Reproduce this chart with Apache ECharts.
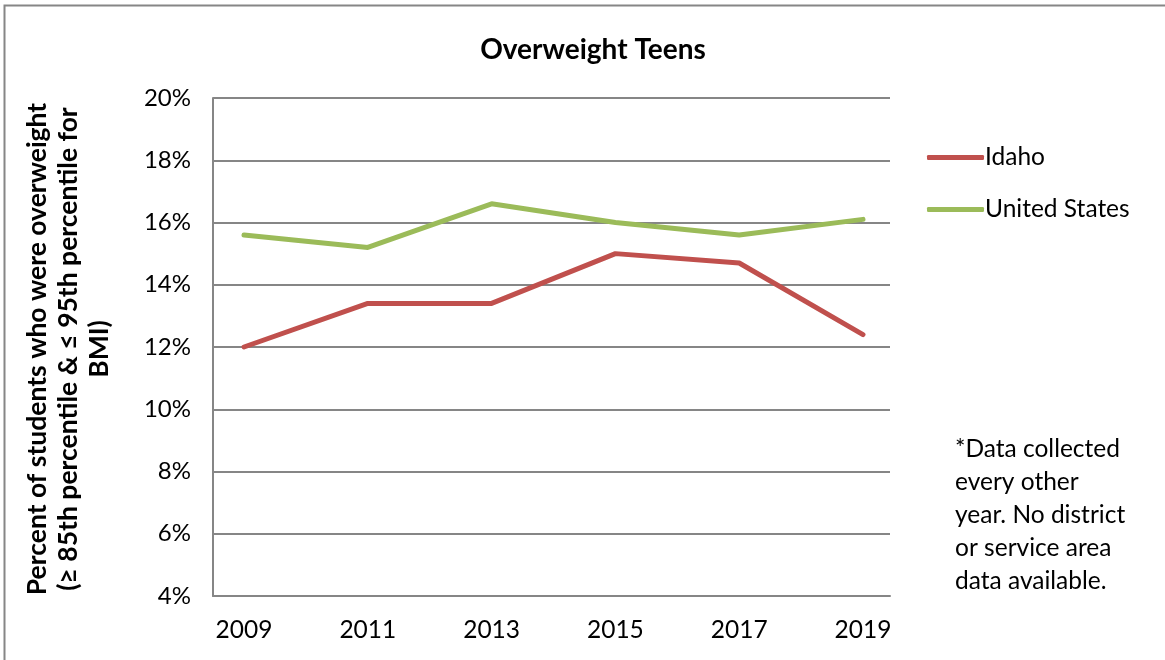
<!DOCTYPE html>
<html>
<head>
<meta charset="utf-8">
<title>Overweight Teens</title>
<script src="https://cdn.jsdelivr.net/npm/echarts@6/dist/echarts.min.js"></script>
<style>
  html, body { margin: 0; padding: 0; background: #fff; }
  #main { width: 1165px; height: 660px; }
</style>
</head>
<body>
<div id="main"></div>
<script>
var years = ['2009', '2011', '2013', '2015', '2017', '2019'];
var idaho = [12.0, 13.4, 13.4, 15.0, 14.7, 12.4];
var unitedStates = [15.6, 15.2, 16.6, 16.0, 15.6, 16.1];

var font = 'Lato, "Open Sans", sans-serif';
var gridColor = '#868686';
var myChart = echarts.init(document.getElementById('main'));

// grid 0: the plot frame and gridlines, grid 1: where the points sit (inset like the original)
var option = {
    backgroundColor: '#fff',
    animation: false,
    title: {
        text: 'Overweight Teens',
        left: 588,
        textAlign: 'center',
        top: 31,
        textStyle: { fontFamily: font, fontSize: 28, fontWeight: 'bold', color: '#000' }
    },
    legend: {
        orient: 'vertical',
        left: 922,
        top: 140,
        itemWidth: 57,
        itemHeight: 5,
        itemGap: 27,
        icon: 'roundRect',
        textStyle: { fontFamily: font, fontSize: 24.5, color: '#000', padding: [0, 0, 0, -4] },
        data: ['Idaho', 'United States']
    },
    grid: [
        { left: 213, right: 275, top: 98, bottom: 64 },
        { left: 244, right: 302, top: 98, bottom: 64 }
    ],
    xAxis: [
        {
            type: 'category',
            gridIndex: 0,
            data: years,
            axisLine: { lineStyle: { color: gridColor, width: 2 } },
            axisTick: { show: false },
            axisLabel: { show: false }
        },
        {
            type: 'category',
            gridIndex: 1,
            data: years,
            boundaryGap: false,
            axisLine: { show: false },
            axisTick: { show: false },
            axisLabel: { color: '#000', fontFamily: font, fontSize: 24.5, margin: 22 }
        }
    ],
    yAxis: [
        {
            type: 'value',
            gridIndex: 0,
            min: 4,
            max: 20,
            interval: 2,
            axisLine: { show: true, lineStyle: { color: gridColor, width: 2 } },
            axisTick: { show: false },
            splitLine: { lineStyle: { color: gridColor, width: 2 } },
            axisLabel: {
                color: '#000', fontFamily: font, fontSize: 24, margin: 22,
                formatter: function (v) { return v + '%'; }
            }
        },
        {
            type: 'value',
            gridIndex: 1,
            min: 4,
            max: 20,
            interval: 2,
            show: false
        }
    ],
    series: [
        {
            name: 'Idaho',
            type: 'line',
            xAxisIndex: 1,
            yAxisIndex: 1,
            data: idaho,
            showSymbol: false,
            color: '#C0504D',
            lineStyle: { width: 5, color: '#C0504D', cap: 'round' }
        },
        {
            name: 'United States',
            type: 'line',
            xAxisIndex: 1,
            yAxisIndex: 1,
            data: unitedStates,
            showSymbol: false,
            color: '#9BBB59',
            lineStyle: { width: 5, color: '#9BBB59', cap: 'round' }
        }
    ],
    graphic: [
        {
            type: 'rect',
            shape: { x: 4.5, y: 5.5, width: 1170, height: 670 },
            style: { fill: 'none', stroke: gridColor, lineWidth: 2 },
            silent: true
        },
        {
            type: 'text',
            x: 68,
            y: 349,
            rotation: Math.PI / 2,
            style: {
                text: 'Percent of students who were overweight\n(\u2265 85th percentile & \u2264 95th percentile for\nBMI)',
                fontFamily: font,
                fontSize: 26.5,
                fontWeight: 'bold',
                fill: '#000',
                align: 'center',
                verticalAlign: 'middle',
                lineHeight: 31
            }
        },
        {
            type: 'text',
            x: 955,
            y: 433,
            style: {
                text: '*Data collected\nevery other\nyear. No district\nor service area\ndata available.',
                fontFamily: font,
                fontSize: 24.5,
                fill: '#000',
                lineHeight: 33
            }
        }
    ]
};
myChart.setOption(option);
</script>
</body>
</html>
